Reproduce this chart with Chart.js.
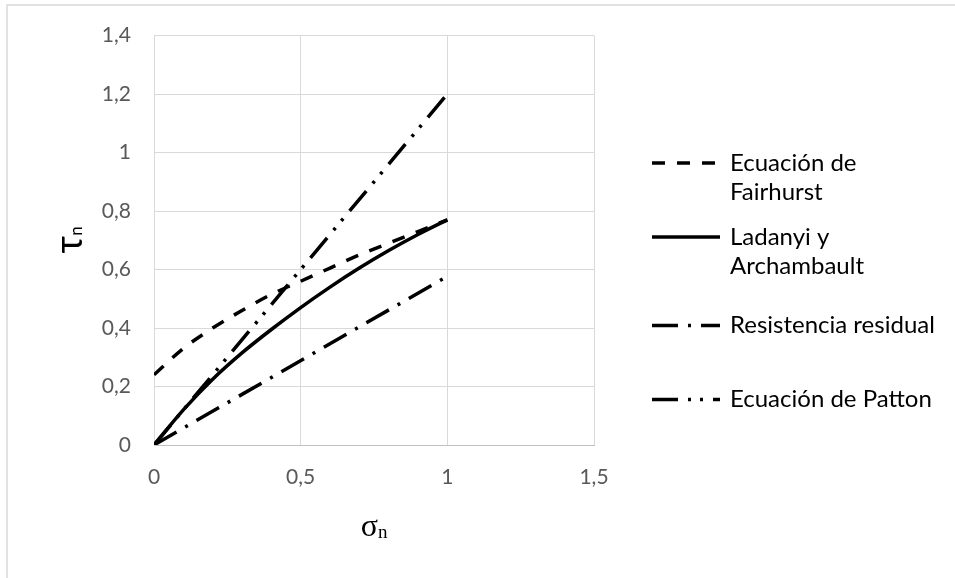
<!DOCTYPE html>
<html>
<head>
<meta charset="utf-8">
<script src="https://cdn.jsdelivr.net/npm/chart.js@4/dist/chart.umd.min.js"></script>
<style>
    html, body { margin: 0; padding: 0; background: #ffffff; }
    #wrap { position: relative; width: 955px; height: 578px; }
</style>
</head>
<body>
<div id="wrap"><canvas id="chart" width="955" height="578"></canvas></div>
<script>
// sigma_n values (x) shared by the curved series
const sigma = [0, 0.1, 0.2, 0.3, 0.4, 0.5, 0.6, 0.7, 0.8, 0.9, 1];
const fairhurst = [0.24, 0.33, 0.40, 0.46, 0.515, 0.56, 0.605, 0.65, 0.69, 0.73, 0.77];
const ladanyi = [0, 0.12, 0.225, 0.315, 0.395, 0.47, 0.54, 0.605, 0.665, 0.72, 0.77];
// straight lines
const residualX = [0, 1];
const residualY = [0, 0.577];
const pattonX = [0, 1];
const pattonY = [0, 1.2];

const xTicks = [0, 0.5, 1, 1.5];
const yTicks = [0, 0.2, 0.4, 0.6, 0.8, 1, 1.2, 1.4];

const seriesNames = [
    ["Ecuación de", "Fairhurst"],
    ["Ladanyi y", "Archambault"],
    ["Resistencia residual"],
    ["Ecuación de Patton"]
];

const FONT = "Lato, 'Open Sans', sans-serif";

function toPoints(xs, ys) {
    return xs.map((x, i) => ({ x: x, y: ys[i] }));
}
function fmt(v) {
    return String(v).replace(".", ",");
}

// draws the legend, axis titles (with subscripts) and the outer frame
const decorPlugin = {
    id: "decor",
    afterDraw(chart) {
        const ctx = chart.ctx;
        ctx.save();

        // outer frame (only top/left visible in the shot)
        ctx.strokeStyle = "#d9d9d9";
        ctx.lineWidth = 1.5;
        ctx.beginPath();
        ctx.moveTo(7, 578);
        ctx.lineTo(7, 5);
        ctx.lineTo(955, 5);
        ctx.stroke();

        // legend
        const sx0 = 652, sx1 = 720, tx = 730, lineH = 29;
        ctx.font = "24px " + FONT;
        ctx.textBaseline = "middle";
        ctx.textAlign = "left";
        chart.data.datasets.forEach((ds, i) => {
            const lines = seriesNames[i];
            const center = 177.5 + i * 74;
            const y0 = center - (lines.length - 1) * lineH / 2;
            ctx.strokeStyle = ds.borderColor;
            ctx.lineWidth = ds.borderWidth;
            ctx.setLineDash(ds.borderDash || []);
            ctx.beginPath();
            ctx.moveTo(sx0, y0);
            ctx.lineTo(sx1, y0);
            ctx.stroke();
            ctx.setLineDash([]);
            ctx.fillStyle = "#000000";
            lines.forEach((t, k) => ctx.fillText(t, tx, y0 + k * lineH));
        });

        // x axis title: sigma_n
        const area = chart.chartArea;
        const cx = (area.left + area.right) / 2;
        ctx.textBaseline = "alphabetic";
        ctx.font = "32px 'Liberation Serif', serif";
        const wS = ctx.measureText("σ").width;
        ctx.font = "19px 'Liberation Serif', serif";
        const wN = ctx.measureText("n").width;
        let x = cx - (wS + wN) / 2;
        ctx.font = "32px 'Liberation Serif', serif";
        ctx.fillText("σ", x, 536);
        ctx.font = "19px 'Liberation Serif', serif";
        ctx.fillText("n", x + wS, 538);

        // y axis title: tau_n (rotated)
        ctx.translate(82, 240);
        ctx.rotate(-Math.PI / 2);
        ctx.font = "38px " + FONT;
        const wT = ctx.measureText("τ").width;
        ctx.font = "17px " + FONT;
        const wN2 = ctx.measureText("n").width;
        x = -(wT + wN2) / 2;
        ctx.font = "38px " + FONT;
        ctx.fillText("τ", x, 0);
        ctx.font = "17px " + FONT;
        ctx.fillText("n", x + wT, 0);

        ctx.restore();
    }
};

const common = {
    showLine: true,
    pointRadius: 0,
    pointHoverRadius: 0,
    borderColor: "#000000",
    backgroundColor: "#000000",
    borderWidth: 3.5,
    fill: false
};

new Chart(document.getElementById("chart"), {
    type: "scatter",
    data: {
        datasets: [
            Object.assign({}, common, {
                label: seriesNames[0].join(" "),
                data: toPoints(sigma, fairhurst),
                borderDash: [13, 12],
                cubicInterpolationMode: "monotone"
            }),
            Object.assign({}, common, {
                label: seriesNames[1].join(" "),
                data: toPoints(sigma, ladanyi),
                cubicInterpolationMode: "monotone"
            }),
            Object.assign({}, common, {
                label: seriesNames[2].join(" "),
                data: toPoints(residualX, residualY),
                borderDash: [26, 10, 3, 10]
            }),
            Object.assign({}, common, {
                label: seriesNames[3].join(" "),
                data: toPoints(pattonX, pattonY),
                borderDash: [26, 10, 3, 9, 3, 10]
            })
        ]
    },
    options: {
        responsive: false,
        animation: false,
        layout: { padding: { left: 0, top: 34, right: 361, bottom: 0 } },
        plugins: {
            legend: { display: false },
            tooltip: { enabled: false }
        },
        scales: {
            x: {
                type: "linear",
                min: 0,
                max: 1.5,
                afterBuildTicks(scale) { scale.ticks = xTicks.map(v => ({ value: v })); },
                afterFit(scale) { scale.height = 133; },
                grid: { color: "#d9d9d9", lineWidth: 1, drawTicks: false },
                border: { color: "#bfbfbf", width: 1 },
                ticks: {
                    padding: 20,
                    color: "#595959",
                    font: { family: FONT, size: 21 },
                    callback: v => fmt(v)
                }
            },
            y: {
                type: "linear",
                min: 0,
                max: 1.4,
                afterBuildTicks(scale) { scale.ticks = yTicks.map(v => ({ value: v })); },
                afterFit(scale) { scale.width = 154; },
                grid: { color: "#d9d9d9", lineWidth: 1, drawTicks: false },
                border: { color: "#d9d9d9", width: 1 },
                ticks: {
                    padding: 23,
                    color: "#595959",
                    font: { family: FONT, size: 21 },
                    callback: v => fmt(v)
                }
            }
        }
    },
    plugins: [decorPlugin]
});
</script>
</body>
</html>
